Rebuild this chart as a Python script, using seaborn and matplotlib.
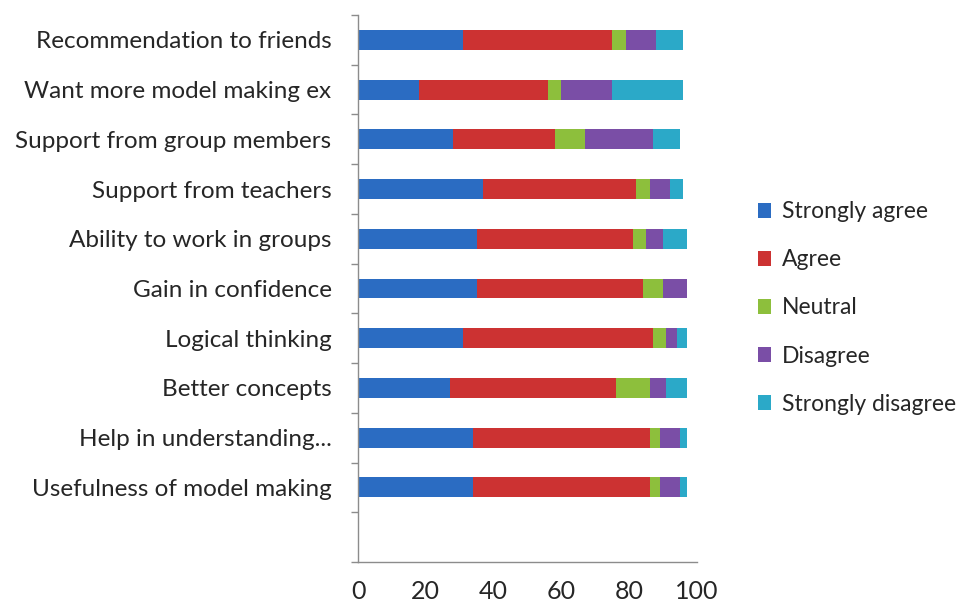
import numpy as np
import pandas as pd
import matplotlib
matplotlib.use("Agg")
import matplotlib.pyplot as plt
from matplotlib.patches import Patch
from matplotlib.ticker import FixedLocator
import seaborn as sns

categories = [
    "Recommendation to friends",
    "Want more model making ex",
    "Support from group members",
    "Support from teachers",
    "Ability to work in groups",
    "Gain in confidence",
    "Logical thinking",
    "Better concepts",
    "Help in understanding...",
    "Usefulness of model making",
]
strongly_agree = [31, 18, 28, 37, 35, 35, 31, 27, 34, 34]
agree = [44, 38, 30, 45, 46, 49, 56, 49, 52, 52]
neutral = [4, 4, 9, 4, 4, 6, 4, 10, 3, 3]
disagree = [9, 15, 20, 6, 5, 7, 3, 5, 6, 6]
strongly_disagree = [8, 21, 8, 4, 7, 0, 3, 6, 2, 2]

series_names = ["Strongly agree", "Agree", "Neutral", "Disagree", "Strongly disagree"]
colors = ["#2B6CC2", "#CC3232", "#8DBF3C", "#7A4EA6", "#2BA9C8"]
xticks = [0, 20, 40, 60, 80, 100]

sns.set_theme(style="white")
plt.rcParams["font.family"] = ["Lato", "DejaVu Sans"]

df = pd.DataFrame({
    "category": categories,
    "Strongly agree": strongly_agree,
    "Agree": agree,
    "Neutral": neutral,
    "Disagree": disagree,
    "Strongly disagree": strongly_disagree,
})
cum = df[series_names].cumsum(axis=1)

fig = plt.figure(figsize=(9.66, 6.08), dpi=100)
ax = fig.add_axes([358 / 966, (608 - 562) / 608, 339 / 966, 547 / 608])

# draw cumulative bars from the longest to the shortest so they stack visually
for name, col in reversed(list(zip(series_names, colors))):
    sns.barplot(x=cum[name], y=df["category"], order=categories, orient="h",
                color=col, width=0.4, ax=ax, saturation=1, edgecolor="none")

ax.set_xlim(0, 100)
ax.set_ylim(10.5, -0.5)
ax.set_xlabel("")
ax.set_ylabel("")
ax.set_xticks(xticks)
ax.set_xticklabels([str(t) for t in xticks], fontsize=18, color="#262626")
ax.tick_params(axis="x", length=5, width=1, color="#8c8c8c", direction="out", pad=8)
ax.set_yticks(range(len(categories)))
ax.set_yticklabels(categories, fontsize=17.5, color="#262626")
ax.tick_params(axis="y", which="major", length=0, pad=19)
ax.yaxis.set_minor_locator(FixedLocator(np.arange(-0.5, 10.6, 1.0)))
ax.tick_params(axis="y", which="minor", length=5, width=1, color="#8c8c8c", direction="out", left=True)
for s in ["top", "right"]:
    ax.spines[s].set_visible(False)
for s in ["left", "bottom"]:
    ax.spines[s].set_color("#8c8c8c")
    ax.spines[s].set_linewidth(1)
ax.grid(False)

handles = [Patch(facecolor=c, edgecolor="none") for c in colors]
fig.legend(handles, series_names, loc="center left", bbox_to_anchor=(737 / 966, 1 - 308 / 608),
           frameon=False, fontsize=16.5, handlelength=0.6, handleheight=0.6,
           handletextpad=0.45, labelspacing=1.18, labelcolor="#262626")

fig.savefig("out.png", dpi=100)
